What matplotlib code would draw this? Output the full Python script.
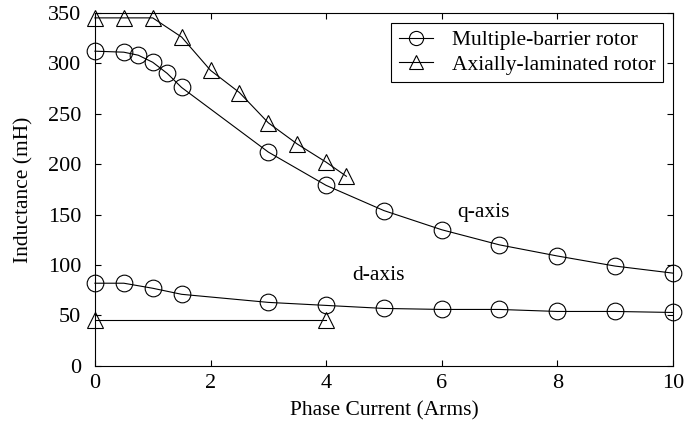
import matplotlib
matplotlib.use("Agg")
import matplotlib.pyplot as plt

plt.rcParams["font.family"] = ["Liberation Serif", "DejaVu Serif"]

# multiple-barrier rotor
mb_q_x = [0, 0.5, 0.75, 1, 1.25, 1.5, 3, 4, 5, 6, 7, 8, 9, 10]
mb_q_y = [312, 311, 308, 301, 290, 276, 212, 179, 154, 135, 120, 109, 99, 92]
mb_d_x = [0, 0.5, 1, 1.5, 3, 4, 5, 6, 7, 8, 9, 10]
mb_d_y = [82, 82, 77, 71, 63, 60, 57, 56, 56, 54, 54, 53]

# axially-laminated rotor
al_q_x = [0, 0.5, 1, 1.5, 2, 2.5, 3, 3.5, 4, 4.35]
al_q_y = [345, 345, 345, 326, 293, 271, 241, 220, 202, 188]
al_d_x = [0, 4]
al_d_y = [46, 46]

FS = 15.5

fig = plt.figure(figsize=(6.98, 4.28), dpi=100)
ax = fig.add_axes([0.136, 0.145, 0.828, 0.825])

mk = dict(color="black", linewidth=0.8, markerfacecolor="none",
          markeredgecolor="black", markeredgewidth=0.8, markersize=12)

(l1,) = ax.plot(mb_q_x, mb_q_y, marker="o", label="Multiple-barrier rotor", **mk)
ax.plot(mb_d_x, mb_d_y, marker="o", **mk)
(l2,) = ax.plot(al_q_x, al_q_y, marker="^", label="Axially-laminated rotor", **mk)
ax.plot(al_d_x, al_d_y, marker="^", **mk)

ax.text(6.73, 152, "q-axis", fontsize=FS, ha="center", va="center")
ax.text(4.91, 90, "d-axis", fontsize=FS, ha="center", va="center")

ax.set_xlim(0, 10)
ax.set_ylim(0, 350)
ax.set_xticks(range(0, 11, 2))
ax.set_yticks(range(0, 351, 50))
ax.tick_params(direction="in", top=True, right=True, labelsize=16, length=4)
ax.tick_params(axis="y", pad=10)
ax.tick_params(axis="x", pad=6)
ax.set_xlabel("Phase Current (Arms)", fontsize=FS, labelpad=6)
ax.set_ylabel("Inductance (mH)", fontsize=FS, labelpad=10)
for s in ax.spines.values():
    s.set_linewidth(0.8)
for ln in ax.lines:
    ln.set_clip_on(False)

leg = ax.legend(handles=[l1, l2], loc="upper right", fontsize=FS,
                fancybox=False, edgecolor="black", framealpha=1,
                borderaxespad=0.46, borderpad=0.35, handlelength=1.6,
                handletextpad=0.85, labelspacing=0.2, markerscale=0.85)
leg.get_frame().set_linewidth(0.8)

fig.savefig("out.png", dpi=100)
